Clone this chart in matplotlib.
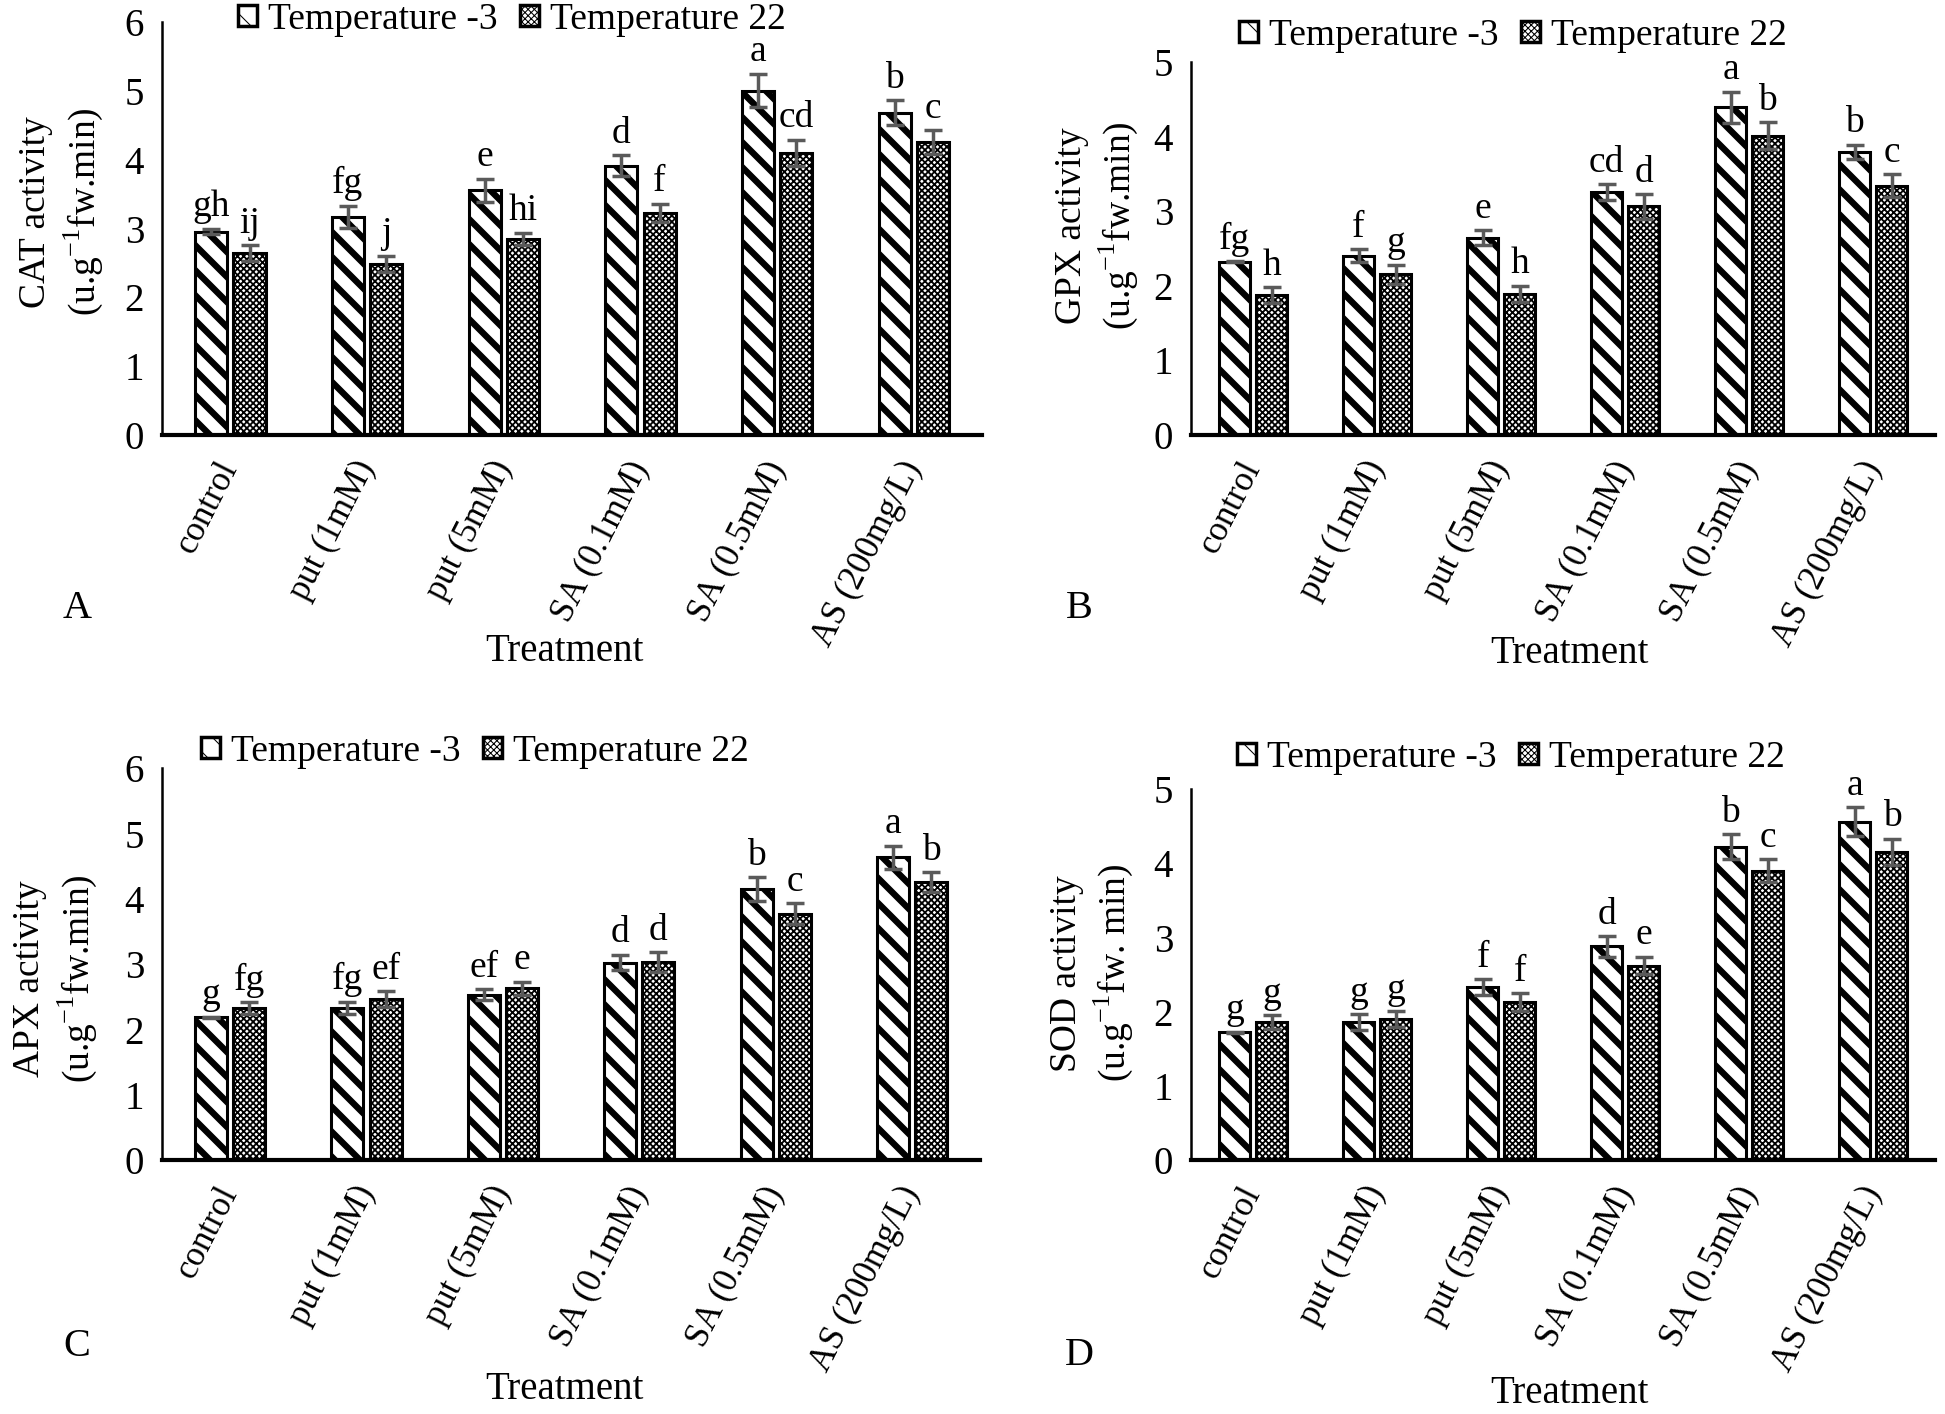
import numpy as np
import matplotlib
matplotlib.use("Agg")
import matplotlib.pyplot as plt
from matplotlib.patches import Patch

plt.rcParams['font.family'] = ['Liberation Serif', 'DejaVu Serif']
plt.rcParams['mathtext.fontset'] = 'custom'
plt.rcParams['mathtext.rm'] = 'Liberation Serif'

treatments = ['control', 'put (1mM)', 'put (5mM)', 'SA (0.1mM)', 'SA (0.5mM)', 'AS (200mg/L)']
series_names = ['Temperature -3', 'Temperature 22']

# CAT (panel A)
cat_cold = [2.95, 3.17, 3.55, 3.91, 5.00, 4.68]
cat_cold_err = [0.04, 0.16, 0.17, 0.15, 0.24, 0.18]
cat_warm = [2.64, 2.48, 2.84, 3.22, 4.09, 4.25]
cat_warm_err = [0.11, 0.12, 0.09, 0.13, 0.19, 0.17]
cat_cold_lbl = ['gh', 'fg', 'e', 'd', 'a', 'b']
cat_warm_lbl = ['ij', 'j', 'hi', 'f', 'cd', 'c']

# GPX (panel B)
gpx_cold = [2.32, 2.40, 2.64, 3.25, 4.39, 3.79]
gpx_cold_err = [0.01, 0.09, 0.10, 0.11, 0.21, 0.10]
gpx_warm = [1.87, 2.15, 1.89, 3.06, 4.01, 3.34]
gpx_warm_err = [0.11, 0.13, 0.11, 0.17, 0.18, 0.15]
gpx_cold_lbl = ['fg', 'f', 'e', 'cd', 'a', 'b']
gpx_warm_lbl = ['h', 'g', 'h', 'd', 'b', 'c']

# APX (panel C)
apx_cold = [2.18, 2.33, 2.53, 3.02, 4.15, 4.63]
apx_cold_err = [0.01, 0.09, 0.08, 0.12, 0.18, 0.18]
apx_warm = [2.32, 2.46, 2.63, 3.03, 3.77, 4.25]
apx_warm_err = [0.09, 0.12, 0.10, 0.15, 0.16, 0.15]
apx_cold_lbl = ['g', 'fg', 'ef', 'd', 'b', 'a']
apx_warm_lbl = ['fg', 'ef', 'e', 'd', 'c', 'b']

# SOD (panel D)
sod_cold = [1.72, 1.86, 2.33, 2.88, 4.22, 4.56]
sod_cold_err = [0.01, 0.11, 0.11, 0.14, 0.17, 0.19]
sod_warm = [1.86, 1.90, 2.13, 2.62, 3.90, 4.15]
sod_warm_err = [0.09, 0.11, 0.12, 0.12, 0.15, 0.18]
sod_cold_lbl = ['g', 'g', 'f', 'd', 'b', 'a']
sod_warm_lbl = ['g', 'g', 'f', 'e', 'c', 'b']

W, H = 1945, 1414
DPI = 75          # lower dpi gives the hatch spacing of the original
S = 100 / DPI     # keep sizes as if drawn at 100 dpi
fig = plt.figure(figsize=((W + 0.3) / DPI, (H + 0.3) / DPI), dpi=DPI)


def px_axes(l, t, r, b):
    return fig.add_axes([l / W, 1 - b / H, (r - l) / W, (b - t) / H])


def draw_panel(ax, cold, cold_err, warm, warm_err, cold_lbl, warm_lbl, ymax, bw, off):
    x = np.arange(len(treatments))
    with plt.rc_context({'hatch.linewidth': 4.6 * S}):
        ax.bar(x - off, cold, bw, color='white', edgecolor='black', linewidth=2.2 * S,
               hatch='\\', zorder=2)
    with plt.rc_context({'hatch.linewidth': 1.3 * S}):
        ax.bar(x + off, warm, bw, color='white', edgecolor='black', linewidth=2.2 * S,
               hatch='xxxx', zorder=2)
    ax.errorbar(x - off, cold, yerr=cold_err, fmt='none', ecolor='#5a5a5a',
                elinewidth=2.5 * S, capsize=6.5 * S, capthick=2.5 * S, zorder=3)
    ax.errorbar(x + off, warm, yerr=warm_err, fmt='none', ecolor='#5a5a5a',
                elinewidth=2.5 * S, capsize=6.5 * S, capthick=2.5 * S, zorder=3)
    pad = ymax * 0.012
    for i in range(len(x)):
        ax.text(x[i] - off, cold[i] + cold_err[i] + pad, cold_lbl[i], ha='center',
                va='bottom', fontsize=27 * S)
        ax.text(x[i] + off, warm[i] + warm_err[i] + pad, warm_lbl[i], ha='center',
                va='bottom', fontsize=27 * S)
    ax.set_xlim(-0.5, len(x) - 0.5)
    ax.set_ylim(0, ymax)
    ax.set_yticks(range(0, ymax + 1))
    ax.set_xticks(x)
    ax.set_xticklabels(treatments, rotation=63, ha='right', va='center',
                       rotation_mode='anchor', fontsize=25 * S)
    ax.tick_params(axis='both', length=0)
    ax.tick_params(axis='y', labelsize=28 * S, pad=13 * S)
    ax.tick_params(axis='x', pad=20 * S)
    for s in ['top', 'right']:
        ax.spines[s].set_visible(False)
    ax.spines['bottom'].set_linewidth(3 * S)
    ax.spines['left'].set_linewidth(1.8 * S)


def add_legend(cx, cy):
    handles = [Patch(facecolor='white', edgecolor='black', hatch='\\', linewidth=2.5 * S),
               Patch(facecolor='white', edgecolor='black', hatch='xxxx', linewidth=2.5 * S)]
    fig.legend(handles, series_names, loc='center', bbox_to_anchor=(cx / W, 1 - cy / H),
               ncol=2, frameon=False, fontsize=27 * S, handlelength=0.5, handleheight=0.5,
               handletextpad=0.3, columnspacing=0.6, borderpad=0.1)


def add_texts(ylabel, ylx, yly, letter, lx, ly, tx, ty):
    fig.text(ylx / W, 1 - yly / H, ylabel, rotation=90, ha='center', va='center',
             fontsize=27 * S, multialignment='center', linespacing=1.25)
    fig.text(lx / W, 1 - ly / H, letter, ha='center', va='center', fontsize=29 * S)
    fig.text(tx / W, 1 - ty / H, 'Treatment', ha='center', va='center', fontsize=28 * S)


# panel A
axA = px_axes(162, 22, 982, 435)
draw_panel(axA, cat_cold, cat_cold_err, cat_warm, cat_warm_err, cat_cold_lbl, cat_warm_lbl,
           6, 0.235, 0.14)
add_legend(512, 20)
add_texts('CAT activity\n(u.g$^{-1}$fw.min)', 62, 212, 'A', 77, 608, 564, 651)

# panel B
axB = px_axes(1191, 62, 1935, 435)
draw_panel(axB, gpx_cold, gpx_cold_err, gpx_warm, gpx_warm_err, gpx_cold_lbl, gpx_warm_lbl,
           5, 0.25, 0.15)
add_legend(1513, 36)
add_texts('GPX activity\n(u.g$^{-1}$fw.min)', 1097, 226, 'B', 1079, 608, 1569, 653)

# panel C
axC = px_axes(162, 768, 980, 1160)
draw_panel(axC, apx_cold, apx_cold_err, apx_warm, apx_warm_err, apx_cold_lbl, apx_warm_lbl,
           6, 0.235, 0.14)
add_legend(475, 752)
add_texts('APX activity\n(u.g$^{-1}$fw.min)', 56, 978, 'C', 77, 1346, 564, 1389)

# panel D
axD = px_axes(1191, 789, 1935, 1160)
draw_panel(axD, sod_cold, sod_cold_err, sod_warm, sod_warm_err, sod_cold_lbl, sod_warm_lbl,
           5, 0.25, 0.15)
add_legend(1511, 758)
add_texts('SOD activity\n(u.g$^{-1}$fw. min)', 1092, 973, 'D', 1079, 1355, 1569, 1393)

fig.savefig('out.png', dpi=DPI)
